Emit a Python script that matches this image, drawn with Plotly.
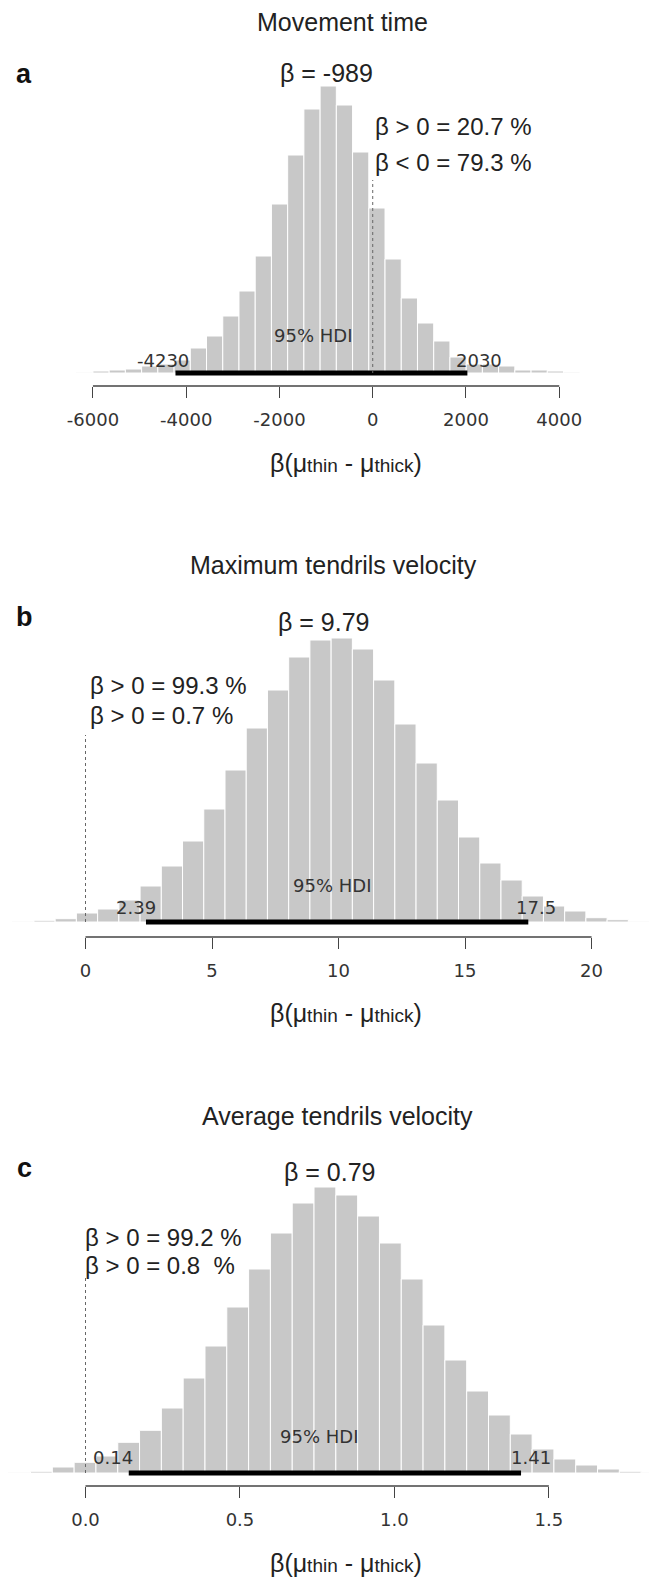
import plotly.graph_objects as go

W, H = 649, 1581

# ---------------- data ----------------
titles = ["Movement time", "Maximum tendrils velocity", "Average tendrils velocity"]
panel_letters = ["a", "b", "c"]

a_centers = [-6174, -5826, -5478, -5130, -4782, -4434, -4086, -3738, -3390, -3042,
             -2694, -2346, -1998, -1650, -1302, -954, -606, -258, 90, 438,
             786, 1134, 1482, 1830, 2178, 2526, 2874, 3222, 3570, 3918, 4266]
a_heights = [0.7, 2, 3, 4, 7, 9, 13, 25, 37, 57,
             82, 117, 169, 218, 264, 287, 268, 221, 165, 114,
             75, 50, 32, 16, 9, 9, 7, 3, 3, 2, 0.8]
a_bin_width = 348

b_centers = [-2.4575, -1.6185, -0.7795, 0.0595, 0.8985, 1.7375, 2.5765, 3.4155, 4.2545, 5.0935,
             5.9325, 6.7715, 7.6105, 8.4495, 9.2885, 10.1275, 10.9665, 11.8055, 12.6445, 13.4835,
             14.3225, 15.1615, 16.0005, 16.8395, 17.6785, 18.5175, 19.3565, 20.1955, 21.0345, 21.8735]
b_heights = [0.7, 1.7, 3.3, 9, 13, 22, 36, 56, 81, 113,
             152, 194, 232, 265, 282, 284, 273, 242, 198, 159,
             122, 85, 59, 42, 26, 16, 11, 4.3, 2.3, 0.7]
b_bin_width = 0.839

c_centers = [-0.2133, -0.1427, -0.0721, -0.0015, 0.0691, 0.1397, 0.2103, 0.2809, 0.3515, 0.4221,
             0.4927, 0.5633, 0.6339, 0.7045, 0.7751, 0.8457, 0.9163, 0.9869, 1.0575, 1.1281,
             1.1987, 1.2693, 1.3399, 1.4105, 1.4811, 1.5517, 1.6223, 1.6929, 1.7635, 1.8341]
c_heights = [0.7, 1.7, 6, 10.7, 17, 30.7, 42.7, 65, 95, 127,
             166, 204, 240, 270, 286, 278, 257, 230, 194, 148,
             113, 82, 58, 39, 24, 14, 8, 4, 1.7, 0.7]
c_bin_width = 0.0706

modes = [-989, 9.79, 0.79]
mode_labels = ["β = -989", "β = 9.79", "β = 0.79"]
hdi_low = [-4230, 2.39, 0.14]
hdi_high = [2030, 17.5, 1.41]
hdi_low_labels = ["-4230", "2.39", "0.14"]
hdi_high_labels = ["2030", "17.5", "1.41"]
prob_line1 = ["β > 0 = 20.7 %", "β > 0 = 99.3 %", "β > 0 = 99.2 %"]
prob_line2 = ["β < 0 = 79.3 %", "β > 0 = 0.7 %", "β > 0 = 0.8  %"]
comp_value = 0
zero_line_tops = [193, 187, 197]

a_tickvals = [-6000, -4000, -2000, 0, 2000, 4000]
a_ticktext = ["-6000", "-4000", "-2000", "0", "2000", "4000"]
b_tickvals = [0, 5, 10, 15, 20]
b_ticktext = ["0", "5", "10", "15", "20"]
c_tickvals = [0.0, 0.5, 1.0, 1.5]
c_ticktext = ["0.0", "0.5", "1.0", "1.5"]

# ---------------- layout geometry (pixels) ----------------
x_ranges = [[-7993, 5925], [-3.379, 22.27], [-0.2768, 1.8242]]
axis_px = [386, 937, 1486]          # y pixel of the R-style axis line
base_off = [13, 15, 13]             # baseline offset above axis line
plot_h = 380
title_px = [22, 565, 1116]
title_x = [342, 333, 337]
axtitle_px = [463, 1013, 1563]

BAR_COLOR = "#c8c8c8"
TEXT = "#222222"
SANS = "Liberation Sans, Arial, sans-serif"
DJV = "DejaVu Sans, sans-serif"

centers = [a_centers, b_centers, c_centers]
heights = [a_heights, b_heights, c_heights]
widths = [a_bin_width, b_bin_width, c_bin_width]
tickvals = [a_tickvals, b_tickvals, c_tickvals]
ticktext = [a_ticktext, b_ticktext, c_ticktext]

# text positions: (x in data units, y in px above baseline)
mode_pos = [(-989, 300), (9.43, 300), (0.792, 301)]
prob_pos = [(0, 246, 210), (0.08, 237, 207), (-0.0094, 236, 208)]
hdi_text_pos = [(-1280, 38), (9.73, 37), (0.756, 37)]
low_pos = [(-4508, 13), (2.01, 15), (0.0874, 16)]
high_pos = [(2280, 13), (17.81, 15), (1.442, 16)]


def py(px):
    return 1 - px / H


fig = go.Figure()
annotations = []
shapes = []

for i in range(3):
    xa = "x" if i == 0 else f"x{i+1}"
    ya = "y" if i == 0 else f"y{i+1}"
    xkey = "xaxis" if i == 0 else f"xaxis{i+1}"
    ykey = "yaxis" if i == 0 else f"yaxis{i+1}"

    fig.add_trace(go.Bar(
        x=centers[i], y=heights[i], width=[widths[i]] * len(centers[i]),
        marker=dict(color=BAR_COLOR, line=dict(color="white", width=1)),
        xaxis=xa, yaxis=ya, showlegend=False, hoverinfo="skip"))

    # HDI bar
    fig.add_trace(go.Scatter(
        x=[hdi_low[i], hdi_high[i]], y=[0, 0], mode="lines",
        line=dict(color="black", width=5), xaxis=xa, yaxis=ya,
        showlegend=False, hoverinfo="skip"))

    bottom = axis_px[i]
    top = bottom - plot_h
    fig.update_layout(**{
        xkey: dict(domain=[0, 1], range=x_ranges[i], anchor=ya,
                   showgrid=False, zeroline=False, showline=False,
                   tickmode="array", tickvals=tickvals[i], ticktext=ticktext[i],
                   ticks="outside", ticklen=11, tickwidth=1.3, tickcolor="#444",
                   tickfont=dict(family=DJV, size=18, color="#333"),
                   ticklabelstandoff=6),
        ykey: dict(domain=[py(bottom), py(top)], range=[-base_off[i], plot_h - base_off[i]],
                   anchor=xa, visible=False, showgrid=False, zeroline=False),
    })

    # axis line between first and last tick
    shapes.append(dict(type="line", xref=xa, yref=f"{ya} domain",
                       x0=tickvals[i][0], x1=tickvals[i][-1], y0=0, y1=0,
                       line=dict(color="#444", width=1.3)))
    # dotted comparison line
    shapes.append(dict(type="line", xref=xa, yref=ya,
                       x0=comp_value, x1=comp_value, y0=0, y1=zero_line_tops[i],
                       line=dict(color="#666", width=1, dash="dot")))

    # titles and panel letters
    annotations.append(dict(text=titles[i], xref="paper", yref="paper",
                            x=title_x[i] / W, y=py(title_px[i]), xanchor="center", yanchor="middle",
                            showarrow=False, font=dict(family=SANS, size=25, color=TEXT)))
    annotations.append(dict(text=f"<b>{panel_letters[i]}</b>", xref="paper", yref="paper",
                            x=24 / W, y=py(title_px[i] + 52), xanchor="center", yanchor="middle",
                            showarrow=False, font=dict(family=SANS, size=27, color="#111")))
    # axis title
    annotations.append(dict(
        text="β(μ<span style='font-size:19px'>thin</span> - μ<span style='font-size:19px'>thick</span>)",
        xref="paper", yref="paper", x=346 / W, y=py(axtitle_px[i]),
        xanchor="center", yanchor="middle", showarrow=False,
        font=dict(family=SANS, size=25, color=TEXT)))

    # mode label
    annotations.append(dict(text=mode_labels[i], xref=xa, yref=ya,
                            x=mode_pos[i][0], y=mode_pos[i][1], xanchor="center", yanchor="middle",
                            showarrow=False, font=dict(family=SANS, size=25, color=TEXT)))
    # probability lines
    annotations.append(dict(text=prob_line1[i], xref=xa, yref=ya,
                            x=prob_pos[i][0], y=prob_pos[i][1], xanchor="left", yanchor="middle",
                            showarrow=False, font=dict(family=SANS, size=24, color=TEXT)))
    annotations.append(dict(text=prob_line2[i], xref=xa, yref=ya,
                            x=prob_pos[i][0], y=prob_pos[i][2], xanchor="left", yanchor="middle",
                            showarrow=False, font=dict(family=SANS, size=24, color=TEXT)))
    # HDI texts
    annotations.append(dict(text="95% HDI", xref=xa, yref=ya,
                            x=hdi_text_pos[i][0], y=hdi_text_pos[i][1], xanchor="center", yanchor="middle",
                            showarrow=False, font=dict(family=DJV, size=18, color="#333")))
    annotations.append(dict(text=hdi_low_labels[i], xref=xa, yref=ya,
                            x=low_pos[i][0], y=low_pos[i][1], xanchor="center", yanchor="middle",
                            showarrow=False, font=dict(family=DJV, size=18, color="#333")))
    annotations.append(dict(text=hdi_high_labels[i], xref=xa, yref=ya,
                            x=high_pos[i][0], y=high_pos[i][1], xanchor="center", yanchor="middle",
                            showarrow=False, font=dict(family=DJV, size=18, color="#333")))

fig.update_layout(
    width=W, height=H, margin=dict(l=0, r=0, t=0, b=0),
    paper_bgcolor="white", plot_bgcolor="white",
    annotations=annotations, shapes=shapes, showlegend=False,
)

fig.write_html("out.html")
